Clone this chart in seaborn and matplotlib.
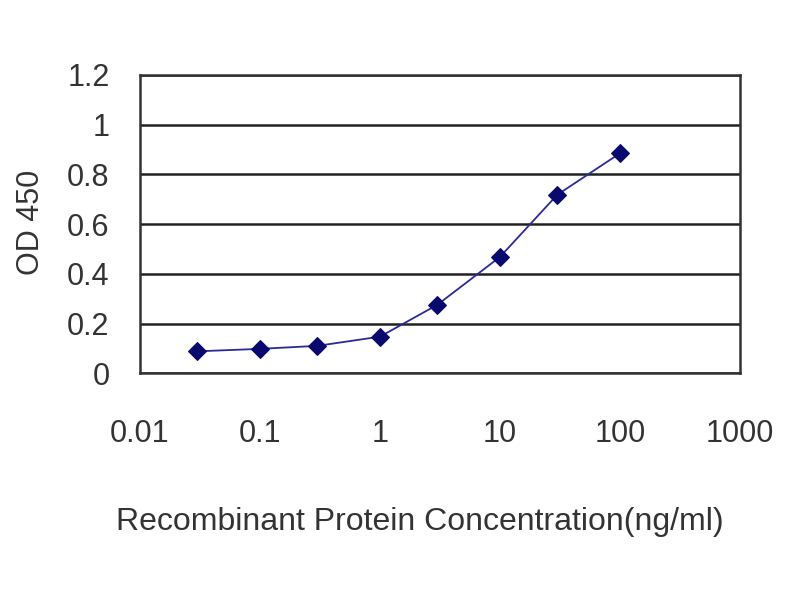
import numpy as np
import pandas as pd
import matplotlib
matplotlib.use("Agg")
import matplotlib.pyplot as plt
import seaborn as sns

# Data
concentration = [0.03, 0.1, 0.3, 1, 3, 10, 30, 100]
od450 = [0.088, 0.098, 0.11, 0.147, 0.275, 0.468, 0.718, 0.885]
x_ticks = [0.01, 0.1, 1, 10, 100, 1000]
x_tick_labels = ["0.01", "0.1", "1", "10", "100", "1000"]
y_ticks = [0, 0.2, 0.4, 0.6, 0.8, 1.0, 1.2]
y_tick_labels = ["0", "0.2", "0.4", "0.6", "0.8", "1", "1.2"]

df = pd.DataFrame({"Concentration": concentration, "OD": od450})

sns.set_style("white")
plt.rcParams['font.family'] = ['Liberation Sans', 'DejaVu Sans']

fig = plt.figure(figsize=(8, 6), dpi=100)
ax = fig.add_axes([0.175, 0.378, 0.75, 0.497])

sns.lineplot(x="Concentration", y="OD", data=df, ax=ax, color="#2a2a9a",
             linewidth=1.3, marker="D", markersize=9,
             markerfacecolor="#0a0a6e", markeredgecolor="#0a0a6e")

ax.set_xscale("log")
ax.set_xlim(0.01, 1000)
ax.set_ylim(0, 1.2)
ax.set_xticks(x_ticks)
ax.set_xticklabels(x_tick_labels)
ax.set_yticks(y_ticks)
ax.set_yticklabels(y_tick_labels)
ax.minorticks_off()

ax.grid(axis="y", color="#222222", linewidth=1.8)
ax.grid(axis="x", visible=False)
ax.set_axisbelow(True)

for s in ax.spines.values():
    s.set_color("#333333")
    s.set_linewidth(1.8)

ax.tick_params(axis="x", direction="in", length=11, width=1.8, color="#333333",
               labelsize=22, pad=33, labelcolor="#333333")
ax.tick_params(axis="y", length=0, labelsize=22, pad=22, labelcolor="#333333")

ax.set_xlabel("Recombinant Protein Concentration(ng/ml)", fontsize=23,
              color="#333333", va="center")
ax.xaxis.set_label_coords(0.467, -0.5)
ax.set_ylabel("OD 450", fontsize=22, color="#333333", va="center")
ax.yaxis.set_label_coords(-0.182, 0.507)

fig.savefig("out.png", dpi=100, facecolor="white")
